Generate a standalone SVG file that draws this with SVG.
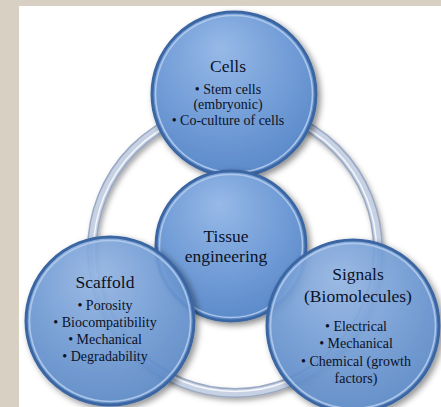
<svg xmlns="http://www.w3.org/2000/svg" width="441" height="407" viewBox="0 0 441 407">
  <defs>
    <radialGradient id="blueFill" cx="0.45" cy="0.35" r="0.72" fx="0.42" fy="0.22">
      <stop offset="0" stop-color="#97b9e7"/>
      <stop offset="0.55" stop-color="#729dd7"/>
      <stop offset="1" stop-color="#5786c6"/>
    </radialGradient>
    <filter id="shadow" x="-20%" y="-20%" width="140%" height="140%">
      <feDropShadow dx="3" dy="3" stdDeviation="3" flood-color="#000" flood-opacity="0.45"/>
    </filter>
    <filter id="ringShadow" x="-20%" y="-20%" width="140%" height="140%">
      <feDropShadow dx="2" dy="3" stdDeviation="2.5" flood-color="#555" flood-opacity="0.5"/>
    </filter>
  </defs>
  <style>
    .disc { fill: url(#blueFill); stroke: #3a66a2; stroke-width: 3; }
    .glass { fill-opacity: 0.88; }
    .rim { fill: none; stroke: #b3cbec; stroke-width: 1.6; opacity: 0.9; }
    .title { font-family: "Liberation Serif", "Times New Roman", serif; font-size: 17.5px; text-anchor: middle; fill: #0b1226; }
    .item { font-family: "Liberation Serif", "Times New Roman", serif; font-size: 14px; text-anchor: middle; fill: #0b1226; }
  </style>

  <rect x="0" y="0" width="441" height="407" fill="#d8d0c3"/>
  <rect x="19" y="6" width="422" height="401" fill="#ffffff"/>

  <g id="connectors">
    <circle cx="235" cy="250" r="143" fill="none" stroke="#9aa9c3" stroke-width="10" filter="url(#ringShadow)"/>
    <circle cx="235" cy="250" r="143" fill="none" stroke="#c6d1e4" stroke-width="7"/>
    <circle cx="235" cy="250" r="141.5" fill="none" stroke="#f4f7fc" stroke-width="1.5"/>
  </g>

  <g id="cells">
    <circle cx="234" cy="94" r="82" class="disc" filter="url(#shadow)"/>
    <circle cx="234" cy="94" r="78.5" class="rim"/>
    <text x="228" y="72" class="title">Cells</text>
    <text x="228" y="94" class="item">• Stem cells</text>
    <text x="228" y="109" class="item">(embryonic)</text>
    <text x="228" y="125" class="item">• Co-culture of cells</text>
  </g>

  <g id="tissue-engineering">
    <circle cx="231" cy="246" r="75" class="disc" filter="url(#shadow)"/>
    <circle cx="231" cy="246" r="71.5" class="rim"/>
    <text x="226" y="242" class="title">Tissue</text>
    <text x="226" y="262" class="title">engineering</text>
  </g>

  <g id="scaffold">
    <circle cx="110" cy="321" r="84" class="disc glass" filter="url(#shadow)"/>
    <circle cx="110" cy="321" r="80.5" class="rim"/>
    <text x="105" y="288" class="title">Scaffold</text>
    <text x="105" y="310" class="item">• Porosity</text>
    <text x="105" y="327" class="item">• Biocompatibility</text>
    <text x="105" y="344" class="item">• Mechanical</text>
    <text x="105" y="361" class="item">• Degradability</text>
  </g>

  <g id="signals">
    <circle cx="353" cy="326" r="86" class="disc glass" filter="url(#shadow)"/>
    <circle cx="353" cy="326" r="82.5" class="rim"/>
    <text x="358" y="280" class="title">Signals</text>
    <text x="358" y="302" class="title">(Biomolecules)</text>
    <text x="356" y="331" class="item">• Electrical</text>
    <text x="356" y="348" class="item">• Mechanical</text>
    <text x="356" y="366" class="item">• Chemical (growth</text>
    <text x="356" y="383" class="item">factors)</text>
  </g>
</svg>
